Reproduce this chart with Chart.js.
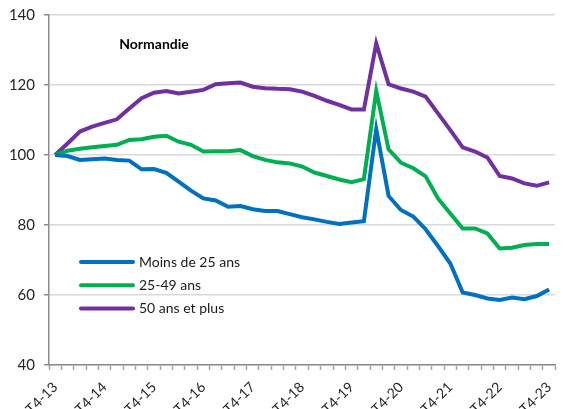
<!DOCTYPE html>
<html>
<head>
<meta charset="utf-8">
<script src="https://cdn.jsdelivr.net/npm/chart.js@4.4.1/dist/chart.umd.min.js"></script>
<style>
    html, body { margin: 0; padding: 0; background: #fff; overflow: hidden; }
    #wrap { position: absolute; left: 0; top: -3px; width: 570px; height: 412px; }
</style>
</head>
<body>
<div id="wrap"><canvas id="chart"></canvas></div>
<script>
// ===== MA'LUMOTLAR =====
var quarters = [
    "T4-13",
    "T1-14", "T2-14", "T3-14", "T4-14",
    "T1-15", "T2-15", "T3-15", "T4-15",
    "T1-16", "T2-16", "T3-16", "T4-16",
    "T1-17", "T2-17", "T3-17", "T4-17",
    "T1-18", "T2-18", "T3-18", "T4-18",
    "T1-19", "T2-19", "T3-19", "T4-19",
    "T1-20", "T2-20", "T3-20", "T4-20",
    "T1-21", "T2-21", "T3-21", "T4-21",
    "T1-22", "T2-22", "T3-22", "T4-22",
    "T1-23", "T2-23", "T3-23", "T4-23"
];

var moins25 = [100, 99.7, 98.6, 98.8, 99.0, 98.6, 98.4, 95.9, 96.0, 94.9,
    92.4, 89.8, 87.6, 87.0, 85.2, 85.4, 84.5, 84.0, 84.0, 83.1,
    82.2, 81.6, 80.9, 80.3, 80.7, 81.1, 107.4, 88.3, 84.3, 82.4,
    78.8, 74.0, 69.0, 60.7, 60.0, 59.0, 58.6, 59.3, 58.8, 59.7, 61.6];

var ans2549 = [100, 101.2, 101.8, 102.2, 102.6, 102.9, 104.3, 104.5, 105.2, 105.5,
    103.8, 102.9, 101.0, 101.1, 101.1, 101.4, 99.7, 98.6, 97.9, 97.6,
    96.7, 95.0, 94.0, 93.0, 92.2, 93.1, 118.3, 101.6, 97.8, 96.2,
    93.9, 87.6, 83.3, 79.0, 79.0, 77.6, 73.3, 73.5, 74.3, 74.6, 74.6];

var plus50 = [100, 103.3, 106.7, 108.1, 109.2, 110.2, 113.3, 116.2, 117.8, 118.3,
    117.6, 118.1, 118.6, 120.2, 120.5, 120.7, 119.5, 119.1, 118.9, 118.8,
    118.1, 116.9, 115.5, 114.3, 113.0, 113.0, 131.9, 120.2, 119.0, 118.1,
    116.7, 111.9, 107.1, 102.2, 101.0, 99.3, 94.0, 93.3, 91.9, 91.2, 92.2];

var seriesNames = ["Moins de 25 ans", "25-49 ans", "50 ans et plus"];
var seriesColors = ["#0070C0", "#00B050", "#7030A0"];
var yTicks = [40, 60, 80, 100, 120, 140];
var chartTitle = "Normandie";

var FONT = "Lato, 'Open Sans', sans-serif";

// ===== SARLAVHA VA LEGENDA (grafik ichida) =====
var insidePlugin = {
    id: "insideLegend",
    afterDraw: function(chart) {
        var ctx = chart.ctx;
        ctx.save();
        // sarlavha
        ctx.font = "bold 14px " + FONT;
        ctx.fillStyle = "#000";
        ctx.textAlign = "center";
        ctx.textBaseline = "middle";
        ctx.fillText(chartTitle, 154, 47);

        // legenda
        ctx.font = "14px " + FONT;
        ctx.textAlign = "left";
        var sets = chart.data.datasets;
        for (var i = 0; i < sets.length; i++) {
            var y = 265 + i * 23.3;
            ctx.strokeStyle = sets[i].borderColor;
            ctx.lineWidth = 4;
            ctx.lineCap = "round";
            ctx.beginPath();
            ctx.moveTo(81, y);
            ctx.lineTo(133, y);
            ctx.stroke();
            ctx.fillStyle = "#1a1a1a";
            ctx.fillText(sets[i].label, 139, y);
        }
        ctx.restore();
    }
};

var values = [moins25, ans2549, plus50];
var datasets = [];
for (var i = 0; i < values.length; i++) {
    datasets.push({
        label: seriesNames[i],
        data: values[i],
        borderColor: seriesColors[i],
        backgroundColor: seriesColors[i],
        borderWidth: 4,
        pointRadius: 0,
        tension: 0,
        fill: false
    });
}

new Chart(document.getElementById("chart"), {
    type: "line",
    data: { labels: quarters, datasets: datasets },
    plugins: [insidePlugin],
    options: {
        responsive: true,
        maintainAspectRatio: false,
        animation: false,
        layout: { padding: { top: 9, right: 0, bottom: 0, left: 0 } },
        plugins: {
            legend: { display: false },
            title: { display: false },
            tooltip: { enabled: false }
        },
        scales: {
            x: {
                offset: true,
                grid: {
                    offset: true,
                    drawOnChartArea: false,
                    drawTicks: true,
                    tickLength: 5,
                    tickColor: "#a6a6a6",
                    tickWidth: 1.5
                },
                border: { color: "#8c8c8c", width: 1.5 },
                ticks: {
                    autoSkip: false,
                    minRotation: 45,
                    maxRotation: 45,
                    padding: 9,
                    color: "#262626",
                    font: { family: FONT, size: 14 },
                    callback: function(value, index) {
                        return index % 4 === 0 ? quarters[index] : "";
                    }
                },
                afterFit: function(scale) { scale.height = 44; }
            },
            y: {
                min: 40,
                max: 140,
                afterBuildTicks: function(scale) {
                    scale.ticks = yTicks.map(function(v) { return { value: v }; });
                },
                grid: {
                    color: "#d9d9d9",
                    lineWidth: 1.5,
                    tickLength: 5,
                    tickColor: "#8c8c8c",
                    tickWidth: 1.5
                },
                border: { color: "#8c8c8c", width: 1.5 },
                ticks: {
                    padding: 9,
                    color: "#262626",
                    font: { family: FONT, size: 15 }
                },
                afterFit: function(scale) { scale.width = 49; }
            }
        }
    }
});
</script>
</body>
</html>
